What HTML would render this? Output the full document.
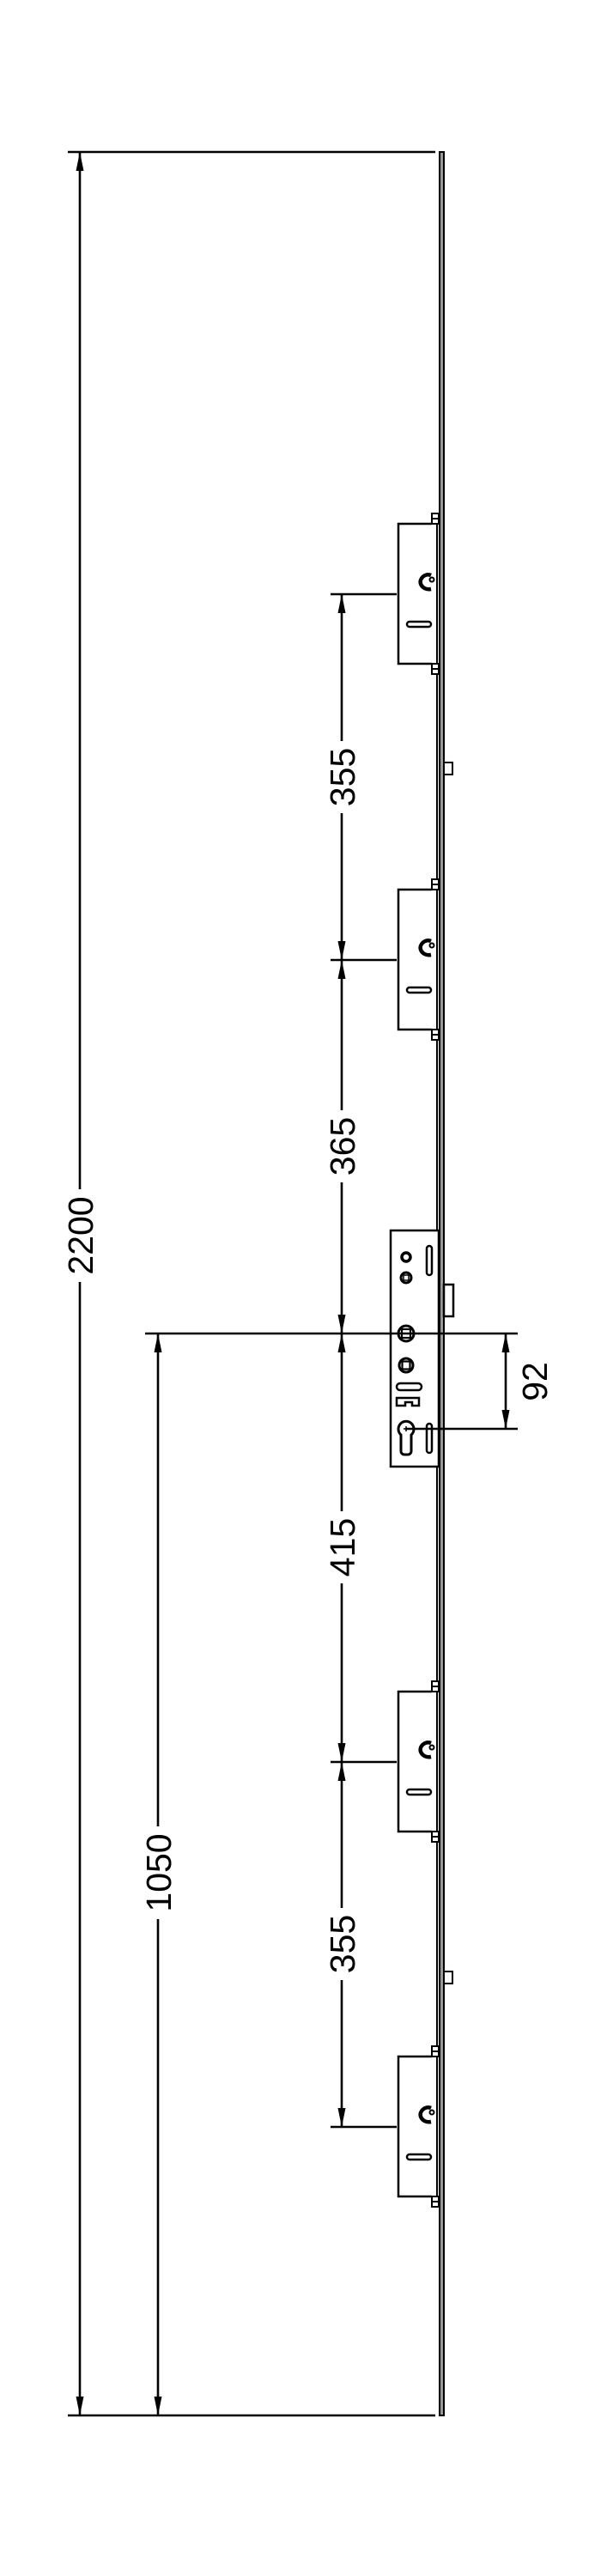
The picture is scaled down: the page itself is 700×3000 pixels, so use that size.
<!DOCTYPE html>
<html><head><meta charset="utf-8"><style>html,body{margin:0;padding:0;background:#fff}svg{display:block}</style></head>
<body>
<svg width="700" height="3000" viewBox="0 0 700 3000" xmlns="http://www.w3.org/2000/svg">
<defs>
<path id="au" d="M0 0 L-4.5 22 L4.5 22 Z" fill="#000"/>
<path id="ad" d="M0 0 L-4.5 -22 L4.5 -22 Z" fill="#000"/>
<g id="lock" fill="none" stroke="#000" stroke-width="2.5">
  <path d="M503 -82 L464 -82 L464 81 L503 81"/>
  <rect x="503" y="-94" width="8" height="12" fill="#fff" stroke-width="2"/>
  <line x1="503" y1="-88" x2="511" y2="-88" stroke-width="2"/>
  <rect x="503" y="81" width="8" height="12" fill="#fff" stroke-width="2"/>
  <line x1="503" y1="87" x2="511" y2="87" stroke-width="2"/>
  <rect x="474" y="32" width="28" height="6" rx="3" stroke-width="2.5"/>
  <path d="M502 -22 C495 -25 488 -18 490 -12 C492 -7 497 -5 502 -6" stroke-width="4.5"/>
  <circle cx="503" cy="-17" r="2.5" stroke-width="2"/>
</g>
</defs>
<g stroke="#000" fill="none">
<rect x="512" y="177" width="5" height="2636" fill="#999" stroke-width="2"/>
<line x1="509" y1="598" x2="509" y2="2570" stroke-width="2"/>
<rect x="517" y="888" width="10" height="14" fill="#fff" stroke-width="2"/>
<rect x="517" y="2296" width="10" height="14" fill="#fff" stroke-width="2"/>
<line x1="79" y1="177" x2="507" y2="177" stroke-width="2.6"/>
<line x1="79" y1="2813" x2="507" y2="2813" stroke-width="2.6"/>
<line x1="169" y1="1553" x2="603" y2="1553" stroke-width="2.6"/>
<line x1="473" y1="1664" x2="603" y2="1664" stroke-width="2.6"/>
<line x1="385" y1="692" x2="462" y2="692" stroke-width="2.6"/>
<line x1="385" y1="1118" x2="462" y2="1118" stroke-width="2.6"/>
<line x1="385" y1="2052" x2="462" y2="2052" stroke-width="2.6"/>
<line x1="385" y1="2477" x2="462" y2="2477" stroke-width="2.6"/>
<line x1="93" y1="177" x2="93" y2="2813" stroke-width="2.6"/>
<line x1="184" y1="1553" x2="184" y2="2813" stroke-width="2.6"/>
<line x1="398" y1="692" x2="398" y2="2477" stroke-width="2.6"/>
<line x1="589" y1="1553" x2="589" y2="1664" stroke-width="2.6"/>
</g>
<use href="#au" x="93" y="177"/><use href="#ad" x="93" y="2813"/>
<use href="#au" x="184" y="1553"/><use href="#ad" x="184" y="2813"/>
<use href="#au" x="398" y="692"/><use href="#ad" x="398" y="1118"/>
<use href="#au" x="398" y="1118"/><use href="#ad" x="398" y="1553"/>
<use href="#au" x="398" y="1553"/><use href="#ad" x="398" y="2052"/>
<use href="#au" x="398" y="2052"/><use href="#ad" x="398" y="2477"/>
<use href="#au" x="589" y="1553"/><use href="#ad" x="589" y="1664"/>
<g fill="#fff">
<rect x="75" y="1385" width="40" height="108"/>
<rect x="166" y="2127" width="40" height="108"/>
<rect x="380" y="863" width="40" height="84"/>
<rect x="380" y="1293" width="40" height="84"/>
<rect x="380" y="1760" width="40" height="84"/>
<rect x="380" y="2222" width="40" height="84"/>
</g>
<g font-family="Liberation Sans, sans-serif" font-size="41" fill="#000" text-anchor="middle" dominant-baseline="central">
<text transform="translate(94,1439) rotate(-90)">2200</text>
<text transform="translate(185,2181) rotate(-90)">1050</text>
<text transform="translate(399,905) rotate(-90)">355</text>
<text transform="translate(399,1335) rotate(-90)">365</text>
<text transform="translate(399,1802) rotate(-90)">415</text>
<text transform="translate(399,2264) rotate(-90)">355</text>
<text transform="translate(623,1609) rotate(-90)">92</text>
</g>
<use href="#lock" x="0" y="692"/>
<use href="#lock" x="0" y="1118"/>
<use href="#lock" x="0" y="2052"/>
<use href="#lock" x="0" y="2477"/>
<g fill="none" stroke="#000" stroke-width="2.5">
<rect x="517" y="1496" width="11" height="37" fill="#fff"/>
<rect x="455" y="1433" width="56" height="275" fill="#fff"/>
<line x1="455" y1="1553" x2="511" y2="1553"/>
<line x1="473" y1="1664" x2="511" y2="1664"/>
<circle cx="473" cy="1464" r="5" stroke-width="3.5"/>
<circle cx="473" cy="1488" r="6" stroke-width="3"/>
<rect x="470" y="1485" width="6" height="6" stroke-width="1.5"/>
<rect x="497" y="1451" width="6" height="34" rx="3"/>
<circle cx="473" cy="1553" r="9" stroke-width="3"/>
<rect x="468" y="1548" width="10" height="10" stroke-width="2.2"/>
<circle cx="473" cy="1590" r="8" stroke-width="3"/>
<rect x="468.5" y="1585.5" width="9" height="9" stroke-width="2.2"/>
<rect x="462" y="1611" width="29" height="8" rx="4"/>
<path d="M462 1628 L488 1628 L488 1637 L480 1637 L480 1633 L472 1633 L472 1637 L462 1637 Z"/>
<path d="M467 1671 A9 9 0 1 1 479 1671 L479 1690 A4 4 0 0 1 475 1694 L471 1694 A4 4 0 0 1 467 1690 Z" stroke-width="3"/>
<rect x="497" y="1658" width="6" height="34" rx="3"/>
<line x1="470" y1="1664" x2="476" y2="1664" stroke-width="1.5"/>
<line x1="473" y1="1661" x2="473" y2="1667" stroke-width="1.5"/>
</g>
</svg>
</body></html>
